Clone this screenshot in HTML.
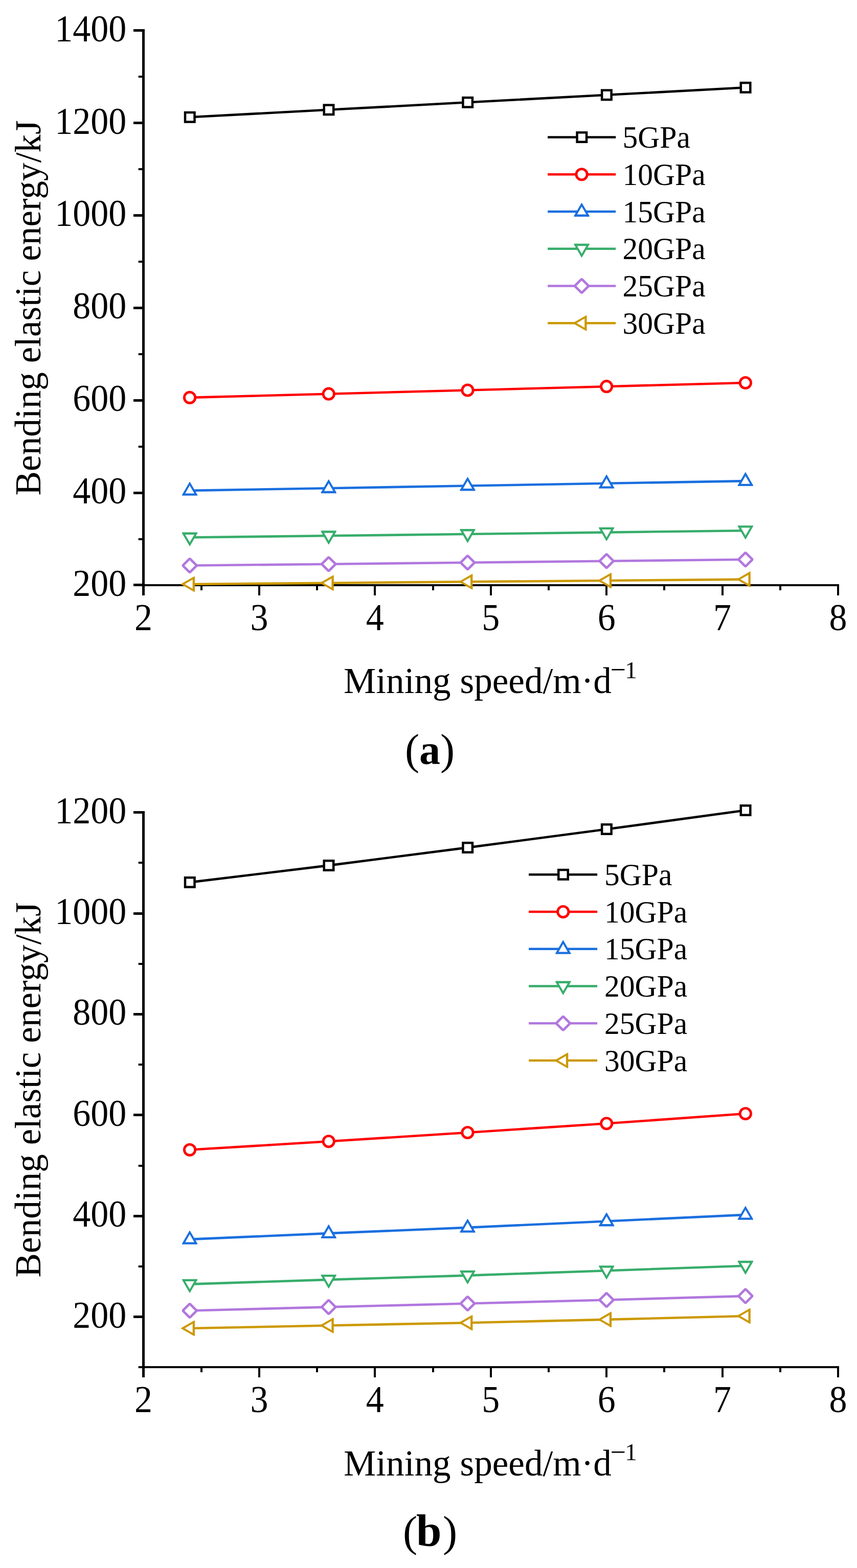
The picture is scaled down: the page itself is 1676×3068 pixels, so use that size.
<!DOCTYPE html>
<html lang="en">
<head>
<meta charset="utf-8">
<title>Bending elastic energy versus mining speed</title>
<style>
html,body{margin:0;padding:0;background:#fff}
body{width:1676px;height:3068px;overflow:hidden}
svg{display:block}
text{font-family:"Liberation Serif","Times New Roman",serif;fill:#000}
</style>
</head>
<body>
<svg width="1676" height="3068" viewBox="0 0 1676 3068">
<rect width="1676" height="3068" fill="#fff"/>
<g id="chart-a">
<path d="M280.5 57V1165" fill="none" stroke="#000" stroke-width="5"/>
<path d="M278 1145H1641" fill="none" stroke="#000" stroke-width="4"/>
<path d="M261 59.5H280.5M261 240.5H280.5M261 421.5H280.5M261 602.5H280.5M261 783.5H280.5M261 964.5H280.5M261 1144.5H280.5" fill="none" stroke="#000" stroke-width="5"/>
<path d="M270.7 150H280.5M270.7 331H280.5M270.7 512H280.5M270.7 693H280.5M270.7 874H280.5M270.7 1055H280.5" fill="none" stroke="#000" stroke-width="4"/>
<path d="M394 1145V1155M507 1145V1165M620 1145V1155M733 1145V1165M847 1145V1155M960 1145V1165M1073 1145V1155M1186 1145V1165M1299 1145V1155M1413 1145V1165M1526 1145V1155M1639 1145V1165" fill="none" stroke="#000" stroke-width="4"/>
<polyline points="371.07,229.3 642.77,214.8 914.48,200.3 1186.18,185.8 1457.88,171.3" fill="none" stroke="#000000" stroke-width="4.6"/>
<polyline points="371.07,777.9 642.77,770.7 914.48,763.5 1186.18,756.2 1457.88,749" fill="none" stroke="#ff0000" stroke-width="4.6"/>
<polyline points="371.07,959.9 642.77,955.2 914.48,950.5 1186.18,945.8 1457.88,941.1" fill="none" stroke="#1a6fdf" stroke-width="4.6"/>
<polyline points="371.07,1051.5 642.77,1048.3 914.48,1045 1186.18,1041.6 1457.88,1038.2" fill="none" stroke="#37ad6b" stroke-width="4.6"/>
<polyline points="371.07,1106.5 642.77,1103.7 914.48,1100.7 1186.18,1097.8 1457.88,1094.8" fill="none" stroke="#b177de" stroke-width="4.6"/>
<polyline points="371.07,1143 642.77,1140.7 914.48,1138.3 1186.18,1136 1457.88,1133.6" fill="none" stroke="#cc9900" stroke-width="4.6"/>
<rect x="359.77" y="217.8" width="23" height="23" fill="#000000"/><rect x="364.27" y="222.3" width="14" height="14" fill="#fff"/>
<rect x="631.47" y="203.3" width="23" height="23" fill="#000000"/><rect x="635.97" y="207.8" width="14" height="14" fill="#fff"/>
<rect x="903.18" y="188.8" width="23" height="23" fill="#000000"/><rect x="907.68" y="193.3" width="14" height="14" fill="#fff"/>
<rect x="1174.88" y="174.3" width="23" height="23" fill="#000000"/><rect x="1179.38" y="178.8" width="14" height="14" fill="#fff"/>
<rect x="1446.58" y="159.8" width="23" height="23" fill="#000000"/><rect x="1451.08" y="164.3" width="14" height="14" fill="#fff"/>
<circle cx="371.07" cy="777.9" r="10.65" fill="#fff" stroke="#ff0000" stroke-width="4.9"/>
<circle cx="642.77" cy="770.7" r="10.65" fill="#fff" stroke="#ff0000" stroke-width="4.9"/>
<circle cx="914.48" cy="763.5" r="10.65" fill="#fff" stroke="#ff0000" stroke-width="4.9"/>
<circle cx="1186.18" cy="756.2" r="10.65" fill="#fff" stroke="#ff0000" stroke-width="4.9"/>
<circle cx="1457.88" cy="749" r="10.65" fill="#fff" stroke="#ff0000" stroke-width="4.9"/>
<path d="M370.67 942.9L371.47 942.9L386.12 968.27L386.12 969.85L356.02 969.85L356.02 968.27Z" fill="#1a6fdf"/><path d="M371.07 950.1L379.97 965.5L362.17 965.5Z" fill="#fff"/>
<path d="M642.37 938.2L643.17 938.2L657.82 963.57L657.82 965.15L627.72 965.15L627.72 963.57Z" fill="#1a6fdf"/><path d="M642.77 945.4L651.67 960.8L633.87 960.8Z" fill="#fff"/>
<path d="M914.08 933.5L914.88 933.5L929.53 958.87L929.53 960.45L899.43 960.45L899.43 958.87Z" fill="#1a6fdf"/><path d="M914.48 940.7L923.38 956.1L905.58 956.1Z" fill="#fff"/>
<path d="M1185.78 928.8L1186.58 928.8L1201.23 954.17L1201.23 955.75L1171.13 955.75L1171.13 954.17Z" fill="#1a6fdf"/><path d="M1186.18 936L1195.08 951.4L1177.28 951.4Z" fill="#fff"/>
<path d="M1457.48 924.1L1458.28 924.1L1472.93 949.47L1472.93 951.05L1442.83 951.05L1442.83 949.47Z" fill="#1a6fdf"/><path d="M1457.88 931.3L1466.78 946.7L1448.98 946.7Z" fill="#fff"/>
<path d="M370.67 1068.5L371.47 1068.5L386.12 1043.13L386.12 1041.55L356.02 1041.55L356.02 1043.13Z" fill="#37ad6b"/><path d="M371.07 1061.3L379.97 1045.9L362.17 1045.9Z" fill="#fff"/>
<path d="M642.37 1065.3L643.17 1065.3L657.82 1039.93L657.82 1038.35L627.72 1038.35L627.72 1039.93Z" fill="#37ad6b"/><path d="M642.77 1058.1L651.67 1042.7L633.87 1042.7Z" fill="#fff"/>
<path d="M914.08 1062L914.88 1062L929.53 1036.63L929.53 1035.05L899.43 1035.05L899.43 1036.63Z" fill="#37ad6b"/><path d="M914.48 1054.8L923.38 1039.4L905.58 1039.4Z" fill="#fff"/>
<path d="M1185.78 1058.6L1186.58 1058.6L1201.23 1033.23L1201.23 1031.65L1171.13 1031.65L1171.13 1033.23Z" fill="#37ad6b"/><path d="M1186.18 1051.4L1195.08 1036L1177.28 1036Z" fill="#fff"/>
<path d="M1457.48 1055.2L1458.28 1055.2L1472.93 1029.83L1472.93 1028.25L1442.83 1028.25L1442.83 1029.83Z" fill="#37ad6b"/><path d="M1457.88 1048L1466.78 1032.6L1448.98 1032.6Z" fill="#fff"/>
<path d="M369.37 1091.2L372.77 1091.2L386.37 1104.8L386.37 1108.2L372.77 1121.8L369.37 1121.8L355.77 1108.2L355.77 1104.8Z" fill="#b177de"/><path d="M371.07 1096.2L381.37 1106.5L371.07 1116.8L360.77 1106.5Z" fill="#fff"/>
<path d="M641.07 1088.4L644.47 1088.4L658.07 1102L658.07 1105.4L644.47 1119L641.07 1119L627.47 1105.4L627.47 1102Z" fill="#b177de"/><path d="M642.77 1093.4L653.07 1103.7L642.77 1114L632.47 1103.7Z" fill="#fff"/>
<path d="M912.78 1085.4L916.18 1085.4L929.78 1099L929.78 1102.4L916.18 1116L912.78 1116L899.18 1102.4L899.18 1099Z" fill="#b177de"/><path d="M914.48 1090.4L924.78 1100.7L914.48 1111L904.18 1100.7Z" fill="#fff"/>
<path d="M1184.48 1082.5L1187.88 1082.5L1201.48 1096.1L1201.48 1099.5L1187.88 1113.1L1184.48 1113.1L1170.88 1099.5L1170.88 1096.1Z" fill="#b177de"/><path d="M1186.18 1087.5L1196.48 1097.8L1186.18 1108.1L1175.88 1097.8Z" fill="#fff"/>
<path d="M1456.18 1079.5L1459.58 1079.5L1473.18 1093.1L1473.18 1096.5L1459.58 1110.1L1456.18 1110.1L1442.58 1096.5L1442.58 1093.1Z" fill="#b177de"/><path d="M1457.88 1084.5L1468.18 1094.8L1457.88 1105.1L1447.58 1094.8Z" fill="#fff"/>
<path d="M354.07 1142.6L354.07 1143.4L379.44 1158.05L381.02 1158.05L381.02 1127.95L379.44 1127.95Z" fill="#cc9900"/><path d="M361.27 1143L376.67 1151.9L376.67 1134.1Z" fill="#fff"/>
<path d="M625.77 1140.3L625.77 1141.1L651.14 1155.75L652.72 1155.75L652.72 1125.65L651.14 1125.65Z" fill="#cc9900"/><path d="M632.97 1140.7L648.37 1149.6L648.37 1131.8Z" fill="#fff"/>
<path d="M897.48 1137.9L897.48 1138.7L922.85 1153.35L924.43 1153.35L924.43 1123.25L922.85 1123.25Z" fill="#cc9900"/><path d="M904.68 1138.3L920.08 1147.2L920.08 1129.4Z" fill="#fff"/>
<path d="M1169.18 1135.6L1169.18 1136.4L1194.55 1151.05L1196.13 1151.05L1196.13 1120.95L1194.55 1120.95Z" fill="#cc9900"/><path d="M1176.38 1136L1191.78 1144.9L1191.78 1127.1Z" fill="#fff"/>
<path d="M1440.88 1133.2L1440.88 1134L1466.25 1148.65L1467.83 1148.65L1467.83 1118.55L1466.25 1118.55Z" fill="#cc9900"/><path d="M1448.08 1133.6L1463.48 1142.5L1463.48 1124.7Z" fill="#fff"/>
<text transform="translate(247.2 80.6) scale(1 1.045)" text-anchor="end" font-size="70">1400</text>
<text transform="translate(247.2 261.5) scale(1 1.045)" text-anchor="end" font-size="70">1200</text>
<text transform="translate(247.2 442.4) scale(1 1.045)" text-anchor="end" font-size="70">1000</text>
<text transform="translate(247.2 623.3) scale(1 1.045)" text-anchor="end" font-size="70">800</text>
<text transform="translate(247.2 804.2) scale(1 1.045)" text-anchor="end" font-size="70">600</text>
<text transform="translate(247.2 985.1) scale(1 1.045)" text-anchor="end" font-size="70">400</text>
<text transform="translate(247.2 1166) scale(1 1.045)" text-anchor="end" font-size="70">200</text>
<text transform="translate(280.5 1233) scale(1 1.045)" text-anchor="middle" font-size="70">2</text>
<text transform="translate(506.92 1233) scale(1 1.045)" text-anchor="middle" font-size="70">3</text>
<text transform="translate(733.34 1233) scale(1 1.045)" text-anchor="middle" font-size="70">4</text>
<text transform="translate(959.76 1233) scale(1 1.045)" text-anchor="middle" font-size="70">5</text>
<text transform="translate(1186.18 1233) scale(1 1.045)" text-anchor="middle" font-size="70">6</text>
<text transform="translate(1412.6 1233) scale(1 1.045)" text-anchor="middle" font-size="70">7</text>
<text transform="translate(1639.02 1233) scale(1 1.045)" text-anchor="middle" font-size="70">8</text>
<text x="672" y="1356.3" font-size="71.2">Mining speed/m·d<tspan dx="-2.5" dy="-28.1" font-size="54">−</tspan><tspan dx="-1.6" dy="-1.1" font-size="47.3">1</tspan></text>
<text transform="translate(79.3 969.4) rotate(-90)" font-size="71.2">Bending elastic energy/kJ</text>
<path d="M1071.1 268.5H1204.2" stroke="#000000" stroke-width="4.6"/>
<rect x="1126.3" y="257" width="23" height="23" fill="#000000"/><rect x="1130.8" y="261.5" width="14" height="14" fill="#fff"/>
<text transform="translate(1217.5 289.1) scale(1 1.02)" font-size="59.6">5GPa</text>
<path d="M1071.1 341.25H1204.2" stroke="#ff0000" stroke-width="4.6"/>
<circle cx="1137.6" cy="341.25" r="10.65" fill="#fff" stroke="#ff0000" stroke-width="4.9"/>
<text transform="translate(1217.5 361.85) scale(1 1.02)" font-size="59.6">10GPa</text>
<path d="M1071.1 414H1204.2" stroke="#1a6fdf" stroke-width="4.6"/>
<path d="M1137.2 397L1138 397L1152.65 422.37L1152.65 423.95L1122.55 423.95L1122.55 422.37Z" fill="#1a6fdf"/><path d="M1137.6 404.2L1146.5 419.6L1128.7 419.6Z" fill="#fff"/>
<text transform="translate(1217.5 434.6) scale(1 1.02)" font-size="59.6">15GPa</text>
<path d="M1071.1 486.75H1204.2" stroke="#37ad6b" stroke-width="4.6"/>
<path d="M1137.2 503.75L1138 503.75L1152.65 478.38L1152.65 476.8L1122.55 476.8L1122.55 478.38Z" fill="#37ad6b"/><path d="M1137.6 496.55L1146.5 481.15L1128.7 481.15Z" fill="#fff"/>
<text transform="translate(1217.5 507.35) scale(1 1.02)" font-size="59.6">20GPa</text>
<path d="M1071.1 559.5H1204.2" stroke="#b177de" stroke-width="4.6"/>
<path d="M1135.9 544.2L1139.3 544.2L1152.9 557.8L1152.9 561.2L1139.3 574.8L1135.9 574.8L1122.3 561.2L1122.3 557.8Z" fill="#b177de"/><path d="M1137.6 549.2L1147.9 559.5L1137.6 569.8L1127.3 559.5Z" fill="#fff"/>
<text transform="translate(1217.5 580.1) scale(1 1.02)" font-size="59.6">25GPa</text>
<path d="M1071.1 632.25H1204.2" stroke="#cc9900" stroke-width="4.6"/>
<path d="M1120.6 631.85L1120.6 632.65L1145.97 647.3L1147.55 647.3L1147.55 617.2L1145.97 617.2Z" fill="#cc9900"/><path d="M1127.8 632.25L1143.2 641.15L1143.2 623.35Z" fill="#fff"/>
<text transform="translate(1217.5 652.85) scale(1 1.02)" font-size="59.6">30GPa</text>
<text y="1495" font-size="84.5"><tspan x="792">(</tspan><tspan x="820" font-weight="bold" font-size="82">a</tspan><tspan x="861">)</tspan></text>
</g>
<g id="chart-b">
<path d="M280.5 1587V2695" fill="none" stroke="#000" stroke-width="5"/>
<path d="M278 2675H1641" fill="none" stroke="#000" stroke-width="4"/>
<path d="M261 1589.5H280.5M261 1787.5H280.5M261 1984.5H280.5M261 2181.5H280.5M261 2379.5H280.5M261 2576.5H280.5" fill="none" stroke="#000" stroke-width="5"/>
<path d="M270.7 1688H280.5M270.7 1886H280.5M270.7 2083H280.5M270.7 2281H280.5M270.7 2478H280.5M270.7 2675H280.5" fill="none" stroke="#000" stroke-width="4"/>
<path d="M394 2675V2685M507 2675V2695M620 2675V2685M733 2675V2695M847 2675V2685M960 2675V2695M1073 2675V2685M1186 2675V2695M1299 2675V2685M1413 2675V2695M1526 2675V2685M1639 2675V2695" fill="none" stroke="#000" stroke-width="4"/>
<polyline points="371.07,1726.4 642.77,1693.4 914.48,1658.4 1186.18,1622.5 1457.88,1585.5" fill="none" stroke="#000000" stroke-width="4.6"/>
<polyline points="371.07,2249.8 642.77,2233.3 914.48,2216 1186.18,2198.3 1457.88,2179" fill="none" stroke="#ff0000" stroke-width="4.6"/>
<polyline points="371.07,2424.9 642.77,2413.1 914.48,2401.9 1186.18,2389.5 1457.88,2376.9" fill="none" stroke="#1a6fdf" stroke-width="4.6"/>
<polyline points="371.07,2512.6 642.77,2503.9 914.48,2495.6 1186.18,2486.2 1457.88,2476.8" fill="none" stroke="#37ad6b" stroke-width="4.6"/>
<polyline points="371.07,2564.5 642.77,2557.4 914.48,2550.5 1186.18,2543.5 1457.88,2535.9" fill="none" stroke="#b177de" stroke-width="4.6"/>
<polyline points="371.07,2599 642.77,2593.5 914.48,2588.2 1186.18,2581.9 1457.88,2575" fill="none" stroke="#cc9900" stroke-width="4.6"/>
<rect x="359.77" y="1714.9" width="23" height="23" fill="#000000"/><rect x="364.27" y="1719.4" width="14" height="14" fill="#fff"/>
<rect x="631.47" y="1681.9" width="23" height="23" fill="#000000"/><rect x="635.97" y="1686.4" width="14" height="14" fill="#fff"/>
<rect x="903.18" y="1646.9" width="23" height="23" fill="#000000"/><rect x="907.68" y="1651.4" width="14" height="14" fill="#fff"/>
<rect x="1174.88" y="1611" width="23" height="23" fill="#000000"/><rect x="1179.38" y="1615.5" width="14" height="14" fill="#fff"/>
<rect x="1446.58" y="1574" width="23" height="23" fill="#000000"/><rect x="1451.08" y="1578.5" width="14" height="14" fill="#fff"/>
<circle cx="371.07" cy="2249.8" r="10.65" fill="#fff" stroke="#ff0000" stroke-width="4.9"/>
<circle cx="642.77" cy="2233.3" r="10.65" fill="#fff" stroke="#ff0000" stroke-width="4.9"/>
<circle cx="914.48" cy="2216" r="10.65" fill="#fff" stroke="#ff0000" stroke-width="4.9"/>
<circle cx="1186.18" cy="2198.3" r="10.65" fill="#fff" stroke="#ff0000" stroke-width="4.9"/>
<circle cx="1457.88" cy="2179" r="10.65" fill="#fff" stroke="#ff0000" stroke-width="4.9"/>
<path d="M370.67 2407.9L371.47 2407.9L386.12 2433.27L386.12 2434.85L356.02 2434.85L356.02 2433.27Z" fill="#1a6fdf"/><path d="M371.07 2415.1L379.97 2430.5L362.17 2430.5Z" fill="#fff"/>
<path d="M642.37 2396.1L643.17 2396.1L657.82 2421.47L657.82 2423.05L627.72 2423.05L627.72 2421.47Z" fill="#1a6fdf"/><path d="M642.77 2403.3L651.67 2418.7L633.87 2418.7Z" fill="#fff"/>
<path d="M914.08 2384.9L914.88 2384.9L929.53 2410.27L929.53 2411.85L899.43 2411.85L899.43 2410.27Z" fill="#1a6fdf"/><path d="M914.48 2392.1L923.38 2407.5L905.58 2407.5Z" fill="#fff"/>
<path d="M1185.78 2372.5L1186.58 2372.5L1201.23 2397.87L1201.23 2399.45L1171.13 2399.45L1171.13 2397.87Z" fill="#1a6fdf"/><path d="M1186.18 2379.7L1195.08 2395.1L1177.28 2395.1Z" fill="#fff"/>
<path d="M1457.48 2359.9L1458.28 2359.9L1472.93 2385.27L1472.93 2386.85L1442.83 2386.85L1442.83 2385.27Z" fill="#1a6fdf"/><path d="M1457.88 2367.1L1466.78 2382.5L1448.98 2382.5Z" fill="#fff"/>
<path d="M370.67 2529.6L371.47 2529.6L386.12 2504.23L386.12 2502.65L356.02 2502.65L356.02 2504.23Z" fill="#37ad6b"/><path d="M371.07 2522.4L379.97 2507L362.17 2507Z" fill="#fff"/>
<path d="M642.37 2520.9L643.17 2520.9L657.82 2495.53L657.82 2493.95L627.72 2493.95L627.72 2495.53Z" fill="#37ad6b"/><path d="M642.77 2513.7L651.67 2498.3L633.87 2498.3Z" fill="#fff"/>
<path d="M914.08 2512.6L914.88 2512.6L929.53 2487.23L929.53 2485.65L899.43 2485.65L899.43 2487.23Z" fill="#37ad6b"/><path d="M914.48 2505.4L923.38 2490L905.58 2490Z" fill="#fff"/>
<path d="M1185.78 2503.2L1186.58 2503.2L1201.23 2477.83L1201.23 2476.25L1171.13 2476.25L1171.13 2477.83Z" fill="#37ad6b"/><path d="M1186.18 2496L1195.08 2480.6L1177.28 2480.6Z" fill="#fff"/>
<path d="M1457.48 2493.8L1458.28 2493.8L1472.93 2468.43L1472.93 2466.85L1442.83 2466.85L1442.83 2468.43Z" fill="#37ad6b"/><path d="M1457.88 2486.6L1466.78 2471.2L1448.98 2471.2Z" fill="#fff"/>
<path d="M369.37 2549.2L372.77 2549.2L386.37 2562.8L386.37 2566.2L372.77 2579.8L369.37 2579.8L355.77 2566.2L355.77 2562.8Z" fill="#b177de"/><path d="M371.07 2554.2L381.37 2564.5L371.07 2574.8L360.77 2564.5Z" fill="#fff"/>
<path d="M641.07 2542.1L644.47 2542.1L658.07 2555.7L658.07 2559.1L644.47 2572.7L641.07 2572.7L627.47 2559.1L627.47 2555.7Z" fill="#b177de"/><path d="M642.77 2547.1L653.07 2557.4L642.77 2567.7L632.47 2557.4Z" fill="#fff"/>
<path d="M912.78 2535.2L916.18 2535.2L929.78 2548.8L929.78 2552.2L916.18 2565.8L912.78 2565.8L899.18 2552.2L899.18 2548.8Z" fill="#b177de"/><path d="M914.48 2540.2L924.78 2550.5L914.48 2560.8L904.18 2550.5Z" fill="#fff"/>
<path d="M1184.48 2528.2L1187.88 2528.2L1201.48 2541.8L1201.48 2545.2L1187.88 2558.8L1184.48 2558.8L1170.88 2545.2L1170.88 2541.8Z" fill="#b177de"/><path d="M1186.18 2533.2L1196.48 2543.5L1186.18 2553.8L1175.88 2543.5Z" fill="#fff"/>
<path d="M1456.18 2520.6L1459.58 2520.6L1473.18 2534.2L1473.18 2537.6L1459.58 2551.2L1456.18 2551.2L1442.58 2537.6L1442.58 2534.2Z" fill="#b177de"/><path d="M1457.88 2525.6L1468.18 2535.9L1457.88 2546.2L1447.58 2535.9Z" fill="#fff"/>
<path d="M354.07 2598.6L354.07 2599.4L379.44 2614.05L381.02 2614.05L381.02 2583.95L379.44 2583.95Z" fill="#cc9900"/><path d="M361.27 2599L376.67 2607.9L376.67 2590.1Z" fill="#fff"/>
<path d="M625.77 2593.1L625.77 2593.9L651.14 2608.55L652.72 2608.55L652.72 2578.45L651.14 2578.45Z" fill="#cc9900"/><path d="M632.97 2593.5L648.37 2602.4L648.37 2584.6Z" fill="#fff"/>
<path d="M897.48 2587.8L897.48 2588.6L922.85 2603.25L924.43 2603.25L924.43 2573.15L922.85 2573.15Z" fill="#cc9900"/><path d="M904.68 2588.2L920.08 2597.1L920.08 2579.3Z" fill="#fff"/>
<path d="M1169.18 2581.5L1169.18 2582.3L1194.55 2596.95L1196.13 2596.95L1196.13 2566.85L1194.55 2566.85Z" fill="#cc9900"/><path d="M1176.38 2581.9L1191.78 2590.8L1191.78 2573Z" fill="#fff"/>
<path d="M1440.88 2574.6L1440.88 2575.4L1466.25 2590.05L1467.83 2590.05L1467.83 2559.95L1466.25 2559.95Z" fill="#cc9900"/><path d="M1448.08 2575L1463.48 2583.9L1463.48 2566.1Z" fill="#fff"/>
<text transform="translate(247.2 1610.7) scale(1 1.045)" text-anchor="end" font-size="70">1200</text>
<text transform="translate(247.2 1808.08) scale(1 1.045)" text-anchor="end" font-size="70">1000</text>
<text transform="translate(247.2 2005.46) scale(1 1.045)" text-anchor="end" font-size="70">800</text>
<text transform="translate(247.2 2202.84) scale(1 1.045)" text-anchor="end" font-size="70">600</text>
<text transform="translate(247.2 2400.22) scale(1 1.045)" text-anchor="end" font-size="70">400</text>
<text transform="translate(247.2 2597.6) scale(1 1.045)" text-anchor="end" font-size="70">200</text>
<text transform="translate(280.5 2763.3) scale(1 1.045)" text-anchor="middle" font-size="70">2</text>
<text transform="translate(506.92 2763.3) scale(1 1.045)" text-anchor="middle" font-size="70">3</text>
<text transform="translate(733.34 2763.3) scale(1 1.045)" text-anchor="middle" font-size="70">4</text>
<text transform="translate(959.76 2763.3) scale(1 1.045)" text-anchor="middle" font-size="70">5</text>
<text transform="translate(1186.18 2763.3) scale(1 1.045)" text-anchor="middle" font-size="70">6</text>
<text transform="translate(1412.6 2763.3) scale(1 1.045)" text-anchor="middle" font-size="70">7</text>
<text transform="translate(1639.02 2763.3) scale(1 1.045)" text-anchor="middle" font-size="70">8</text>
<text x="672" y="2886.6" font-size="71.2">Mining speed/m·d<tspan dx="-2.5" dy="-28.1" font-size="54">−</tspan><tspan dx="-1.6" dy="-1.1" font-size="47.3">1</tspan></text>
<text transform="translate(79.3 2499.4) rotate(-90)" font-size="71.2">Bending elastic energy/kJ</text>
<path d="M1034.1 1711.3H1168.1" stroke="#000000" stroke-width="4.6"/>
<rect x="1090" y="1699.8" width="23" height="23" fill="#000000"/><rect x="1094.5" y="1704.3" width="14" height="14" fill="#fff"/>
<text transform="translate(1182 1731.9) scale(1 1.02)" font-size="59.6">5GPa</text>
<path d="M1034.1 1784.05H1168.1" stroke="#ff0000" stroke-width="4.6"/>
<circle cx="1101.3" cy="1784.05" r="10.65" fill="#fff" stroke="#ff0000" stroke-width="4.9"/>
<text transform="translate(1182 1804.65) scale(1 1.02)" font-size="59.6">10GPa</text>
<path d="M1034.1 1856.8H1168.1" stroke="#1a6fdf" stroke-width="4.6"/>
<path d="M1100.9 1839.8L1101.7 1839.8L1116.35 1865.17L1116.35 1866.75L1086.25 1866.75L1086.25 1865.17Z" fill="#1a6fdf"/><path d="M1101.3 1847L1110.2 1862.4L1092.4 1862.4Z" fill="#fff"/>
<text transform="translate(1182 1877.4) scale(1 1.02)" font-size="59.6">15GPa</text>
<path d="M1034.1 1929.55H1168.1" stroke="#37ad6b" stroke-width="4.6"/>
<path d="M1100.9 1946.55L1101.7 1946.55L1116.35 1921.18L1116.35 1919.6L1086.25 1919.6L1086.25 1921.18Z" fill="#37ad6b"/><path d="M1101.3 1939.35L1110.2 1923.95L1092.4 1923.95Z" fill="#fff"/>
<text transform="translate(1182 1950.15) scale(1 1.02)" font-size="59.6">20GPa</text>
<path d="M1034.1 2002.3H1168.1" stroke="#b177de" stroke-width="4.6"/>
<path d="M1099.6 1987L1103 1987L1116.6 2000.6L1116.6 2004L1103 2017.6L1099.6 2017.6L1086 2004L1086 2000.6Z" fill="#b177de"/><path d="M1101.3 1992L1111.6 2002.3L1101.3 2012.6L1091 2002.3Z" fill="#fff"/>
<text transform="translate(1182 2022.9) scale(1 1.02)" font-size="59.6">25GPa</text>
<path d="M1034.1 2075.05H1168.1" stroke="#cc9900" stroke-width="4.6"/>
<path d="M1084.3 2074.65L1084.3 2075.45L1109.67 2090.1L1111.25 2090.1L1111.25 2060L1109.67 2060Z" fill="#cc9900"/><path d="M1091.5 2075.05L1106.9 2083.95L1106.9 2066.15Z" fill="#fff"/>
<text transform="translate(1182 2095.65) scale(1 1.02)" font-size="59.6">30GPa</text>
<text y="3025" font-size="84.5"><tspan x="788">(</tspan><tspan x="814" font-weight="bold" font-size="89">b</tspan><tspan x="866">)</tspan></text>
</g>
</svg>
</body>
</html>
